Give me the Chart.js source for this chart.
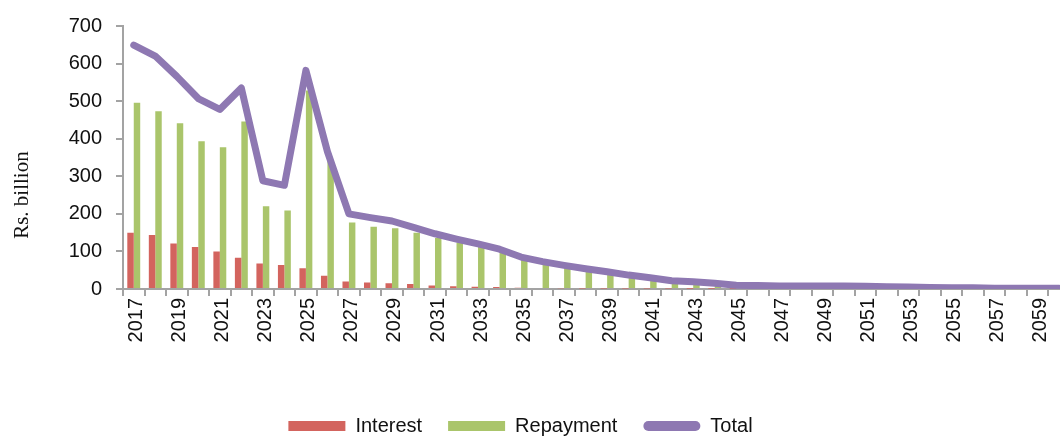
<!DOCTYPE html>
<html>
<head>
<meta charset="utf-8">
<title>Debt service profile</title>
<script src="https://cdn.jsdelivr.net/npm/chart.js@4.4.0/dist/chart.umd.min.js"></script>
<style>
    html, body { margin: 0; padding: 0; background: #fff; overflow: hidden; }
    #wrap { width: 1060px; height: 436px; overflow: hidden; }
    canvas { display: block; }
</style>
</head>
<body>
<div id="wrap"><canvas id="debt-chart" width="1085" height="436"></canvas></div>
<script>
const years = [
    '2017', '2018', '2019', '2020', '2021', '2022', '2023', '2024', '2025', '2026',
    '2027', '2028', '2029', '2030', '2031', '2032', '2033', '2034', '2035', '2036',
    '2037', '2038', '2039', '2040', '2041', '2042', '2043', '2044', '2045', '2046',
    '2047', '2048', '2049', '2050', '2051', '2052', '2053', '2054', '2055', '2056',
    '2057', '2058', '2059', '2060'
];

// Rs. billion
const interest = [
    150, 144, 121, 112, 100, 83, 68, 64, 55, 35,
    20, 17, 15, 13, 9, 7, 6, 5, 3, 2.5,
    2, 1.5, 1.5, 1, 1, 1, 0.8, 0.6, 0.5, 0.5,
    0.4, 0.4, 0.3, 0.3, 0.3, 0.2, 0.2, 0.2, 0.1, 0.1,
    0.1, 0.1, 0.1, 0.1
];

const repayment = [
    496, 473, 441, 393, 377, 446, 220, 209, 528, 340,
    177, 166, 162, 150, 136, 124, 112, 100, 79, 68,
    59, 51, 43, 34, 28, 20, 17, 14, 9, 8,
    8, 7.5, 7.5, 7.5, 6.5, 5.5, 4.5, 3.5, 3, 2.5,
    2, 2, 2, 2
];

const total = [
    649, 620, 566, 507, 478, 535, 288, 276, 582, 366,
    200, 190, 181, 164, 147, 133, 120, 106, 85, 73,
    63, 54, 46, 37, 30, 22, 19, 15, 10, 9,
    8, 8, 8, 8, 7, 6, 5, 4, 3, 3,
    2, 2, 2, 2
];

const yMax = 700;
const yStep = 100;
const yTitle = 'Rs. billion';

const AXIS_GREY = '#A3A3A3';
const TEXT = '#111';
const sansFont = { family: '"Liberation Sans", Arial, sans-serif', size: 20 };

// y axis title sits lower than the middle of the axis in the original
const yTitlePlugin = {
    id: 'yTitle',
    afterDraw(chart) {
        const { ctx, scales } = chart;
        ctx.save();
        ctx.translate(22, scales.y.getPixelForValue(250));
        ctx.rotate(-Math.PI / 2);
        ctx.font = '21px "Liberation Serif", "Times New Roman", serif';
        ctx.fillStyle = TEXT;
        ctx.textAlign = 'center';
        ctx.textBaseline = 'middle';
        ctx.fillText(yTitle, 0, 0);
        ctx.restore();
    }
};

// legend is centred on the visible part of the picture, not on the whole canvas
const legendShift = {
    id: 'legendShift',
    afterLayout(chart) {
        const lg = chart.legend;
        lg.left -= 22;
        lg.right -= 22;
        lg.top += 10;
        lg.bottom += 10;
    }
};

new Chart(document.getElementById('debt-chart').getContext('2d'), {
    type: 'bar',
    data: {
        labels: years,
        datasets: [
            {
                label: 'Interest',
                data: interest,
                backgroundColor: '#D3645E',
                borderWidth: 0,
                order: 1
            },
            {
                label: 'Repayment',
                data: repayment,
                backgroundColor: '#AAC56B',
                borderWidth: 0,
                order: 1
            },
            {
                type: 'line',
                label: 'Total',
                data: total,
                borderColor: '#8E78B2',
                backgroundColor: '#8E78B2',
                borderWidth: 7,
                borderCapStyle: 'round',
                borderJoinStyle: 'round',
                pointRadius: 0,
                tension: 0,
                order: 0
            }
        ]
    },
    options: {
        responsive: false,
        animation: false,
        devicePixelRatio: 1,
        layout: { padding: { top: 25, left: 0, right: 0, bottom: 0 } },
        datasets: {
            bar: { categoryPercentage: 0.6, barPercentage: 1.0 }
        },
        scales: {
            x: {
                offset: true,
                grid: { offset: true, drawOnChartArea: false, tickLength: 7, color: AXIS_GREY, lineWidth: 2 },
                border: { color: AXIS_GREY, width: 2 },
                ticks: {
                    autoSkip: false,
                    minRotation: 90,
                    maxRotation: 90,
                    padding: 2,
                    labelOffset: 3,
                    color: TEXT,
                    font: sansFont,
                    callback: (v, i) => (i % 2 === 0 ? years[i] : '')
                },
                afterFit: (scale) => { scale.height = 91; }
            },
            y: {
                min: 0,
                max: yMax,
                ticks: { stepSize: yStep, padding: 14, color: TEXT, font: sansFont },
                grid: { drawOnChartArea: false, tickLength: 7, color: AXIS_GREY, lineWidth: 2 },
                border: { color: AXIS_GREY, width: 2 },
                afterFit: (scale) => { scale.width = 123; }
            }
        },
        plugins: {
            legend: {
                position: 'bottom',
                labels: {
                    color: TEXT,
                    font: sansFont,
                    boxWidth: 57,
                    boxHeight: 10,
                    padding: 26,
                    useBorderRadius: true,
                    generateLabels: (chart) => chart.data.datasets.map((ds, i) => ({
                        text: ds.label,
                        fillStyle: ds.type === 'line' ? ds.borderColor : ds.backgroundColor,
                        strokeStyle: ds.type === 'line' ? ds.borderColor : ds.backgroundColor,
                        lineWidth: 0,
                        borderRadius: ds.type === 'line' ? 5 : 0,
                        fontColor: TEXT,
                        hidden: !chart.isDatasetVisible(i),
                        datasetIndex: i
                    }))
                }
            },
            tooltip: { enabled: false }
        }
    },
    plugins: [yTitlePlugin, legendShift]
});
</script>
</body>
</html>
